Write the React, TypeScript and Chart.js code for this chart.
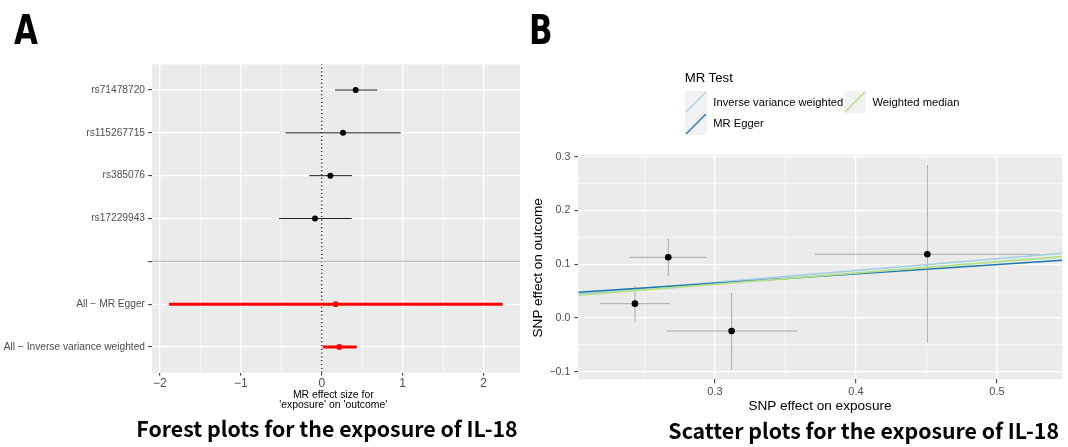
import React, { useEffect, useRef } from "react";
import { Chart, registerables } from "chart.js";
Chart.register(...registerables);

// ---------- Panel A: forest plot ----------
const forestLabels = [
  "All − Inverse variance weighted",
  "All − MR Egger",
  "",
  "rs17229943",
  "rs385076",
  "rs115267715",
  "rs71478720",
];
const snpNames = ["rs71478720", "rs115267715", "rs385076", "rs17229943"];
const snpEstimate = [0.42, 0.263, 0.107, -0.083];
const snpLower = [0.164, -0.45, -0.153, -0.528];
const snpUpper = [0.687, 0.976, 0.375, 0.371];
const methodNames = ["All − MR Egger", "All − Inverse variance weighted"];
const methodEstimate = [0.173, 0.218];
const methodLower = [-1.887, 0.012];
const methodUpper = [2.237, 0.433];
const forestXTicks = [-2, -1, 0, 1, 2];
const forestXMinor = [-1.5, -0.5, 0.5, 1.5];
const forestXRange = [-2.098, 2.451];
const forestYRange = [0.4, 7.6];
const separatorLabel = "";
const nullEffect = 0;

// ---------- Panel B: scatter plot ----------
const exposureBeta = [0.2669, 0.2433, 0.3118, 0.4506];
const exposureLow = [0.2392, 0.2184, 0.266, 0.3707];
const exposureHigh = [0.2943, 0.2679, 0.3582, 0.5305];
const outcomeBeta = [0.1129, 0.0266, -0.0242, 0.1185];
const outcomeLow = [0.0781, -0.0056, -0.0962, -0.0459];
const outcomeHigh = [0.1483, 0.0595, 0.0471, 0.2847];
const mrMethods = ["Inverse variance weighted", "MR Egger", "Weighted median"];
const mrSlope = [0.2204, 0.173, 0.2089];
const mrIntercept = [0, 0.0128, 0];
const mrColors = ["#a6cee3", "#1f78b4", "#b2df8a"];
const scatterXTicks = [0.3, 0.4, 0.5];
const scatterXMinor = [0.25, 0.35, 0.45];
const scatterYTicks = [-0.1, 0, 0.1, 0.2, 0.3];
const scatterYMinor = [-0.05, 0.05, 0.15, 0.25];
const scatterXRange = [0.2031, 0.5463];
const scatterYRange = [-0.1141, 0.3032];

const FONT = "'Liberation Sans', Arial, Helvetica, sans-serif";
const TICK_COLOR = "#4d4d4d";

const panelBg = {
  id: "panelBg",
  beforeDraw(chart: any) {
    const { ctx, chartArea: a } = chart;
    ctx.save();
    ctx.fillStyle = "#ebebeb";
    ctx.fillRect(a.left, a.top, a.right - a.left, a.bottom - a.top);
    ctx.restore();
  },
};

const near = (arr: number[], v: number) => arr.some((m) => Math.abs(m - v) < 1e-9);

function gridScale(
  major: number[],
  minor: number[],
  range: number[],
  fmt: (v: number) => string,
  size: number,
  fit: (s: any) => void,
  tickLength: number,
  padding: number
) {
  return {
    type: "linear",
    min: range[0],
    max: range[1],
    afterBuildTicks: (s: any) => {
      s.ticks = [...minor, ...major].sort((a, b) => a - b).map((v) => ({ value: v }));
    },
    afterFit: fit,
    border: { display: false },
    grid: {
      color: "#ffffff",
      lineWidth: (c: any) => (c.tick && near(major, c.tick.value) ? 1.3 : 0.6),
      tickColor: (c: any) => (c.tick && near(major, c.tick.value) ? "#333333" : "rgba(0,0,0,0)"),
      tickWidth: 1,
      tickLength,
      drawTicks: true,
    },
    ticks: {
      autoSkip: false,
      maxRotation: 0,
      minRotation: 0,
      padding,
      color: TICK_COLOR,
      font: { family: FONT, size },
      callback: (v: any) => (near(major, Number(v)) ? fmt(Number(v)) : ""),
    },
  };
}

const fmtMinus = (v: number) => (v < 0 ? "−" + String(Math.abs(v)) : String(v));
const fmtDec = (v: number) => (v < 0 ? "−" + Math.abs(v).toFixed(1) : v.toFixed(1));

function forestConfig(): any {
  const posOf = (name: string) => forestLabels.indexOf(name) + 1;
  const datasets: any[] = [];
  datasets.push({
    data: [
      { x: nullEffect, y: forestYRange[0] },
      { x: nullEffect, y: forestYRange[1] },
    ],
    showLine: true,
    borderColor: "#000000",
    borderWidth: 1.2,
    borderDash: [1.2, 2.6],
    pointRadius: 0,
    order: 10,
  });
  datasets.push({
    data: [
      { x: forestXRange[0], y: posOf(separatorLabel) },
      { x: forestXRange[1], y: posOf(separatorLabel) },
    ],
    showLine: true,
    borderColor: "#bdbdbd",
    borderWidth: 1.2,
    pointRadius: 0,
    order: 9,
  });
  snpNames.forEach((n, i) => {
    datasets.push({
      data: [
        { x: snpLower[i], y: posOf(n) },
        { x: snpUpper[i], y: posOf(n) },
      ],
      showLine: true,
      borderColor: "#222222",
      borderWidth: 1,
      pointRadius: 0,
      order: 5,
    });
  });
  methodNames.forEach((n, i) => {
    datasets.push({
      data: [
        { x: methodLower[i], y: posOf(n) },
        { x: methodUpper[i], y: posOf(n) },
      ],
      showLine: true,
      borderColor: "#ff0000",
      borderWidth: 3,
      pointRadius: 0,
      order: 5,
    });
  });
  datasets.push({
    data: snpNames.map((n, i) => ({ x: snpEstimate[i], y: posOf(n) })),
    pointRadius: 3,
    pointBackgroundColor: "#000000",
    pointBorderWidth: 0,
    order: 0,
  });
  datasets.push({
    data: methodNames.map((n, i) => ({ x: methodEstimate[i], y: posOf(n) })),
    pointRadius: 3,
    pointBackgroundColor: "#ff0000",
    pointBorderWidth: 0,
    order: 0,
  });

  const yTicks = forestLabels.map((_, i) => i + 1);
  return {
    type: "scatter",
    data: { datasets },
    plugins: [panelBg],
    options: {
      animation: false,
      responsive: false,
      events: [],
      layout: { padding: { left: 0, right: 10, top: 64.3, bottom: 54.3 } },
      plugins: { legend: { display: false }, tooltip: { enabled: false } },
      scales: {
        x: gridScale(forestXTicks, forestXMinor, forestXRange, fmtMinus, 12, (s: any) => (s.height = 20), 3, 1),
        y: {
          type: "linear",
          min: forestYRange[0],
          max: forestYRange[1],
          afterBuildTicks: (s: any) => {
            s.ticks = yTicks.map((v) => ({ value: v }));
          },
          afterFit: (s: any) => (s.width = 152),
          border: { display: false },
          grid: { color: "#ffffff", lineWidth: 1.3, tickColor: "#333333", tickWidth: 1, tickLength: 4 },
          ticks: {
            autoSkip: false,
            padding: 3,
            color: TICK_COLOR,
            font: { family: FONT, size: 10.2 },
            callback: (v: any) => forestLabels[Number(v) - 1] ?? "",
          },
        },
      },
    },
  };
}

function scatterConfig(): any {
  const datasets: any[] = [];
  mrMethods.forEach((m, i) => {
    datasets.push({
      data: [
        { x: scatterXRange[0], y: mrIntercept[i] + mrSlope[i] * scatterXRange[0] },
        { x: scatterXRange[1], y: mrIntercept[i] + mrSlope[i] * scatterXRange[1] },
      ],
      showLine: true,
      borderColor: mrColors[i],
      borderWidth: 1.6,
      pointRadius: 0,
      order: 3 - i,
    });
  });
  exposureBeta.forEach((xv, i) => {
    datasets.push({
      data: [
        { x: exposureLow[i], y: outcomeBeta[i] },
        { x: exposureHigh[i], y: outcomeBeta[i] },
      ],
      showLine: true,
      borderColor: "#a8a8a8",
      borderWidth: 1,
      pointRadius: 0,
      order: 8,
    });
    datasets.push({
      data: [
        { x: xv, y: outcomeLow[i] },
        { x: xv, y: outcomeHigh[i] },
      ],
      showLine: true,
      borderColor: "#a8a8a8",
      borderWidth: 1,
      pointRadius: 0,
      order: 8,
    });
  });
  datasets.push({
    data: exposureBeta.map((x, i) => ({ x, y: outcomeBeta[i] })),
    pointRadius: 3.3,
    pointBackgroundColor: "#000000",
    pointBorderWidth: 0,
    order: 0,
  });
  return {
    type: "scatter",
    data: { datasets },
    plugins: [panelBg],
    options: {
      animation: false,
      responsive: false,
      events: [],
      layout: { padding: { left: 0, right: 5.7, top: 155, bottom: 47.7 } },
      plugins: { legend: { display: false }, tooltip: { enabled: false } },
      scales: {
        x: gridScale(scatterXTicks, scatterXMinor, scatterXRange, fmtDec, 11, (s: any) => (s.height = 20), 4, 2),
        y: gridScale(scatterYTicks, scatterYMinor, scatterYRange, fmtDec, 10.6, (s: any) => (s.width = 48.3), 4, 4),
      },
    },
  };
}

function T(props: { x: number; y: number; w?: number; size: number; lh?: number; align?: any; weight?: any; family?: string; color?: string; children: any; rotate?: boolean }) {
  const lh = props.lh ?? props.size;
  const w = props.w ?? 0;
  const style: any = {
    position: "absolute",
    left: props.align === "center" ? props.x - w / 2 : props.x,
    top: props.y - lh / 2,
    width: props.align === "center" ? w : undefined,
    textAlign: props.align ?? "left",
    fontSize: props.size,
    lineHeight: lh + "px",
    fontWeight: props.weight ?? 400,
    fontFamily: props.family ?? FONT,
    color: props.color ?? "#000",
    whiteSpace: "pre",
  };
  if (props.rotate) {
    style.transform = "rotate(-90deg)";
    style.transformOrigin = "50% 50%";
  }
  return <div style={style}>{props.children}</div>;
}

function Key({ x, y, color }: { x: number; y: number; color: string }) {
  return (
    <svg style={{ position: "absolute", left: x, top: y }} width={22} height={22}>
      <rect x={0} y={0} width={22} height={22} fill="#f2f2f2" />
      <line x1={1} y1={21} x2={21} y2={1} stroke={color} strokeWidth={1.5} />
    </svg>
  );
}

export default function App() {
  const c1 = useRef<HTMLCanvasElement | null>(null);
  const c2 = useRef<HTMLCanvasElement | null>(null);
  useEffect(() => {
    const a = new Chart(c1.current as any, forestConfig());
    const b = new Chart(c2.current as any, scatterConfig());
    return () => {
      a.destroy();
      b.destroy();
    };
  }, []);
  const narrow = "'Liberation Sans Narrow', 'DejaVu Sans Condensed', 'Arial Narrow', sans-serif";
  const cjk = "'Noto Sans CJK SC', 'Noto Sans', sans-serif";
  const letter: any = {
    position: "absolute",
    top: 9.8,
    fontFamily: narrow,
    fontWeight: 700,
    fontSize: 40,
    lineHeight: "40px",
    transform: "scaleX(0.86)",
    transformOrigin: "0 0",
  };
  return (
    <div style={{ position: "absolute", left: 0, top: 0, width: 1068, height: 447, background: "#fff", overflow: "hidden" }}>
      <canvas ref={c1} width={530} height={447} style={{ position: "absolute", left: 0, top: 0, width: 530, height: 447 }} />
      <canvas ref={c2} width={538} height={447} style={{ position: "absolute", left: 530, top: 0, width: 538, height: 447 }} />

      <div style={{ ...letter, left: 14 }}>A</div>
      <div style={{ ...letter, left: 529 }}>B</div>

      <div style={{ position: "absolute", left: 233.3, top: 390.4, width: 200, textAlign: "center", fontFamily: FONT, fontSize: 10.4, lineHeight: "9.6px", color: "#000" }}>
        MR effect size for
        <br />
        'exposure' on 'outcome'
      </div>

      <T x={538.3} y={267.5} w={240} align="center" size={13.6} rotate>
        SNP effect on outcome
      </T>
      <T x={820} y={405.7} w={240} align="center" size={13.6}>
        SNP effect on exposure
      </T>

      <T x={684.7} y={78} size={13.2}>
        MR Test
      </T>
      <Key x={685} y={91} color={mrColors[0]} />
      <Key x={685} y={113} color={mrColors[1]} />
      <Key x={844} y={91} color={mrColors[2]} />
      <T x={713.3} y={102.7} size={11.2}>
        {mrMethods[0]}
      </T>
      <T x={713.3} y={124} size={11.2}>
        {mrMethods[1]}
      </T>
      <T x={872.5} y={102.7} size={11.2}>
        {mrMethods[2]}
      </T>

      <div style={{ position: "absolute", left: 77, top: 417.4, width: 500, textAlign: "center", whiteSpace: "nowrap", fontFamily: cjk, fontWeight: 700, fontSize: 21.3, lineHeight: "22px" }}>
        Forest plots for the exposure of IL-18
      </div>
      <div style={{ position: "absolute", left: 613.7, top: 419.4, width: 500, textAlign: "center", whiteSpace: "nowrap", fontFamily: cjk, fontWeight: 700, fontSize: 21.3, lineHeight: "22px" }}>
        Scatter plots for the exposure of IL-18
      </div>
    </div>
  );
}
